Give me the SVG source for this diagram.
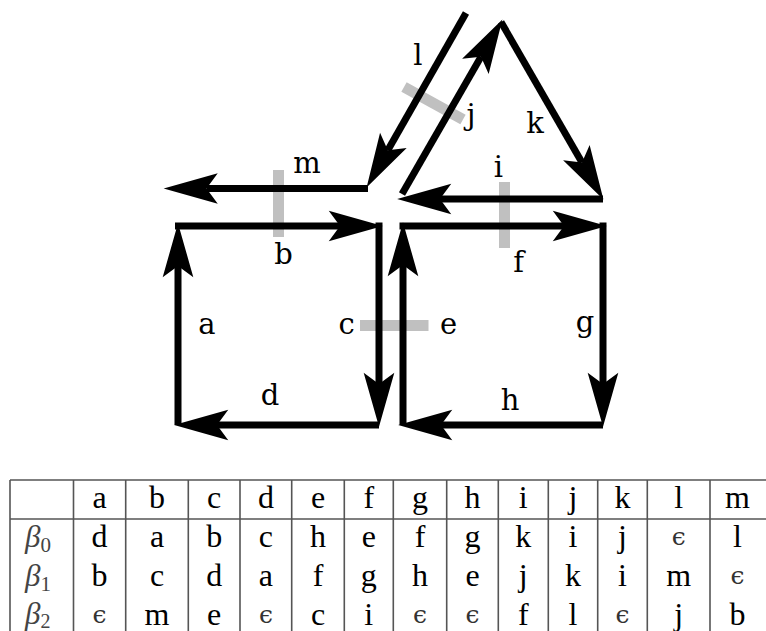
<svg xmlns="http://www.w3.org/2000/svg" width="766" height="631" viewBox="0 0 766 631">
<defs>
<marker id="ah" markerUnits="userSpaceOnUse" markerWidth="60" markerHeight="40" viewBox="-12 -16 56 32" refX="0" refY="0" orient="auto" overflow="visible">
<path d="M40,0 L-10.5,-14.3 L0,0 L-10.5,14.3 Z" fill="#000"/>
</marker>
</defs>
<style>
.e{stroke:#000;stroke-width:7;fill:none;marker-end:url(#ah)}
.cut{stroke:#c0c0c0;stroke-width:11;fill:none}
.lb{font-family:"DejaVu Serif",serif;font-size:29px;fill:#000;text-anchor:middle}
.t{font-family:"Liberation Serif",serif;font-size:32px;fill:#000;text-anchor:middle}
.eps{font-family:"DejaVu Serif",serif;font-size:25px;fill:#333;text-anchor:middle}
.beta{font-family:"Liberation Serif",serif;font-style:italic;font-size:31px;fill:#444}
.grid{stroke:#555;stroke-width:1.6;fill:none}
</style>
<rect width="766" height="631" fill="#fff"/>
<g id="cuts">
<line class="cut" x1="278.5" y1="170" x2="278.5" y2="237"/>
<line class="cut" x1="404" y1="87" x2="463" y2="119.5"/>
<line class="cut" x1="504.5" y1="182" x2="504.5" y2="248"/>
<line class="cut" x1="360" y1="325.5" x2="428.5" y2="325.5"/>
</g>
<g id="connectors">
<line id="a" class="e" x1="178" y1="425" x2="178" y2="266"/>
<line id="b" class="e" x1="175" y1="226" x2="340" y2="226"/>
<line id="c" class="e" x1="379" y1="222.5" x2="379" y2="384"/>
<line id="d" class="e" x1="379" y1="425" x2="217" y2="425"/>
<line id="e" class="e" x1="403" y1="425" x2="403" y2="265"/>
<line id="f" class="e" x1="399.5" y1="226" x2="564" y2="226"/>
<line id="g" class="e" x1="603" y1="222.5" x2="603" y2="384"/>
<line id="h" class="e" x1="603" y1="425" x2="441" y2="425"/>
<line id="i" class="e" x1="603" y1="199" x2="440" y2="199"/>
<line id="j" class="e" x1="402" y1="194" x2="481" y2="56.7"/>
<line id="k" class="e" x1="501" y1="22" x2="582" y2="162.4"/>
<line id="l" class="e" x1="466" y1="13" x2="387.8" y2="150.2"/>
<line id="m" class="e" x1="368" y1="188.5" x2="206.5" y2="188.5"/>
</g>
<g id="labels">
<text class="lb" x="207" y="334">a</text>
<text class="lb" x="283.5" y="264">b</text>
<text class="lb" x="346.5" y="334">c</text>
<text class="lb" x="270" y="405">d</text>
<text class="lb" x="448.5" y="334">e</text>
<text class="lb" x="518.5" y="272">f</text>
<text class="lb" x="585" y="332">g</text>
<text class="lb" x="510" y="410">h</text>
<text class="lb" x="498.5" y="177">i</text>
<text class="lb" x="471" y="125">j</text>
<text class="lb" x="535" y="133">k</text>
<text class="lb" x="418" y="65">l</text>
<text class="lb" x="307" y="173">m</text>
</g>
<g id="table">
<path class="grid" d="M10,480H766M10,519H766M10,480V631M73.5,480V631M125.7,480V631M188.3,480V631M240,480V631M291.7,480V631M344.3,480V631M393.3,480V631M446.7,480V631M498.3,480V631M548.3,480V631M597.7,480V631M647.3,480V631M710,480V631"/>
<g class="t">
<text x="99.6" y="508">a</text><text x="157" y="508">b</text><text x="214.2" y="508">c</text><text x="265.9" y="508">d</text><text x="318" y="508">e</text><text x="368.8" y="508">f</text><text x="420" y="508">g</text><text x="472.5" y="508">h</text><text x="523.3" y="508">i</text><text x="573" y="508">j</text><text x="622.5" y="508">k</text><text x="678.7" y="508">l</text><text x="737.5" y="508">m</text>
<text x="99.6" y="547">d</text><text x="157" y="547">a</text><text x="214.2" y="547">b</text><text x="265.9" y="547">c</text><text x="318" y="547">h</text><text x="368.8" y="547">e</text><text x="420" y="547">f</text><text x="472.5" y="547">g</text><text x="523.3" y="547">k</text><text x="573" y="547">i</text><text x="622.5" y="547">j</text><text x="737.5" y="547">l</text>
<text x="99.6" y="586">b</text><text x="157" y="586">c</text><text x="214.2" y="586">d</text><text x="265.9" y="586">a</text><text x="318" y="586">f</text><text x="368.8" y="586">g</text><text x="420" y="586">h</text><text x="472.5" y="586">e</text><text x="523.3" y="586">j</text><text x="573" y="586">k</text><text x="622.5" y="586">i</text><text x="678.7" y="586">m</text>
<text x="157" y="625">m</text><text x="214.2" y="625">e</text><text x="318" y="625">c</text><text x="368.8" y="625">i</text><text x="523.3" y="625">f</text><text x="573" y="625">l</text><text x="678.7" y="625">j</text><text x="737.5" y="625">b</text>
</g>
<g class="eps">
<text x="678.7" y="545">ϵ</text>
<text x="737.5" y="584">ϵ</text>
<text x="99.6" y="623">ϵ</text><text x="265.9" y="623">ϵ</text><text x="420" y="623">ϵ</text><text x="472.5" y="623">ϵ</text><text x="622.5" y="623">ϵ</text>
</g>
<text class="beta" x="25" y="547">β<tspan font-size="21" font-style="normal" dy="5">0</tspan></text>
<text class="beta" x="25" y="586">β<tspan font-size="21" font-style="normal" dy="5">1</tspan></text>
<text class="beta" x="25" y="624">β<tspan font-size="20" font-style="normal" dy="4">2</tspan></text>
</g>
</svg>
